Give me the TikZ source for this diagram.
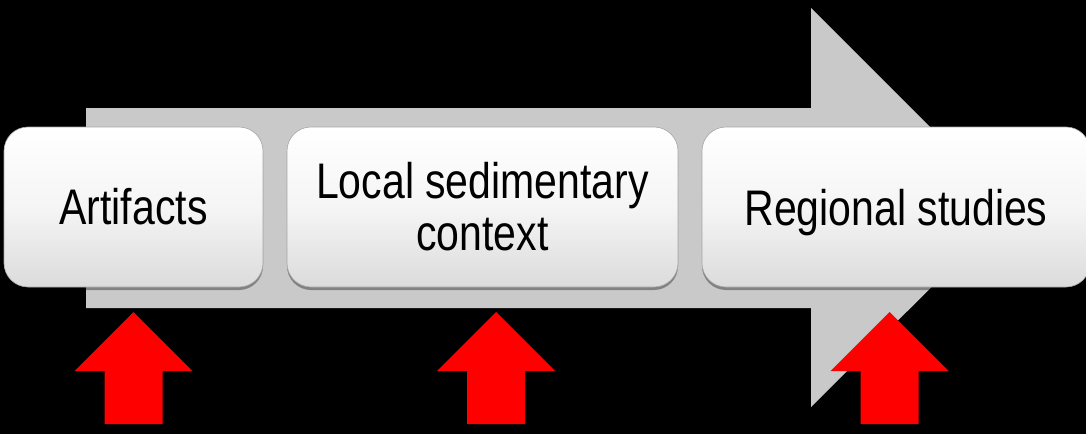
\documentclass[tikz,border=0pt]{standalone}
\usepackage{fontspec}
\setmainfont{Liberation Sans}[FakeStretch=0.82]
\begin{document}
\begin{tikzpicture}[x=1pt,y=-1pt,
  stepbox/.style={rounded corners=24pt, minimum height=160pt, inner sep=0pt,
    top color=white, bottom color=black!14, middle color=white!96!black,
    draw=black!35, line width=0.6pt,
    font=\fontsize{50}{52}\selectfont, align=center,
    preaction={fill=black, fill opacity=0.35, transform canvas={yshift=-3pt}}},
  redarrow/.style={fill=red, draw=none}
  ]
\useasboundingbox[fill=black] (0,0) rectangle (1086,434);
% big gray arrow
\fill[black!21] (86,108) -- (811,108) -- (811,8) -- (1011,208) -- (811,407)
  -- (811,308) -- (86,308) -- cycle;
% boxes
\node[stepbox, minimum width=259pt] (a) at (133.5,207) {Artifacts};
\node[stepbox, minimum width=391pt] (b) at (482.5,207) {Local sedimentary\\context};
\node[stepbox, minimum width=388pt, text depth=0pt] (c) at (896,207) {Regional studies};
% red up arrows
\foreach \cx in {133.5,496,889.5}{
  \fill[redarrow] (\cx,312) -- (\cx+59,371) -- (\cx+29,371) -- (\cx+29,424)
    -- (\cx-29,424) -- (\cx-29,371) -- (\cx-59,371) -- cycle;
}
\end{tikzpicture}
\end{document}
